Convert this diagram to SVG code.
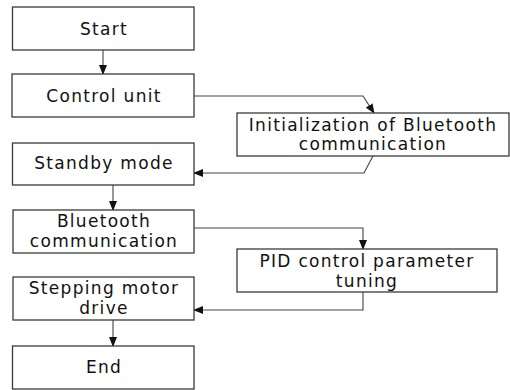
<svg xmlns="http://www.w3.org/2000/svg" width="510" height="390" viewBox="0 0 510 390">
  <style>
    .box { fill: #ffffff; stroke: #3a3a3a; stroke-width: 1.3; }
    .lbl { font-family: "DejaVu Sans", "Noto Sans", sans-serif; font-size: 17px; letter-spacing: 1.3px; fill: #111111; text-anchor: middle; }
    .wire { fill: none; stroke: #444444; stroke-width: 1.1; }
  </style>
  <defs>
    <marker id="arrow" markerWidth="10" markerHeight="8" refX="9" refY="4" orient="auto" markerUnits="userSpaceOnUse">
      <path d="M0,0 L10,4 L0,8 Z" fill="#111111"/>
    </marker>
  </defs>
  <rect width="510" height="390" fill="#ffffff"/>

  <g id="connectors">
    <path class="wire" d="M103,50 V74" marker-end="url(#arrow)"/>
    <path class="wire" d="M194,96 H363 L374,113" marker-end="url(#arrow)"/>
    <path class="wire" d="M373,156 L364,173 H194" marker-end="url(#arrow)"/>
    <path class="wire" d="M113,185 V210" marker-end="url(#arrow)"/>
    <path class="wire" d="M194,228 H363 V249" marker-end="url(#arrow)"/>
    <path class="wire" d="M363,292 V310 H194" marker-end="url(#arrow)"/>
    <path class="wire" d="M113,320 V346" marker-end="url(#arrow)"/>
  </g>

  <g id="start">
    <rect class="box" x="12.5" y="7" width="181.5" height="43"/>
    <text class="lbl" x="104" y="35">Start</text>
  </g>
  <g id="control-unit">
    <rect class="box" x="12" y="74" width="182" height="43"/>
    <text class="lbl" x="104" y="102">Control unit</text>
  </g>
  <g id="bt-init">
    <rect class="box" x="237" y="113" width="272" height="43"/>
    <text class="lbl" x="373" y="131">Initialization of Bluetooth</text>
    <text class="lbl" x="373" y="150">communication</text>
  </g>
  <g id="standby">
    <rect class="box" x="12.5" y="143" width="181.5" height="42"/>
    <text class="lbl" x="104" y="169">Standby mode</text>
  </g>
  <g id="bt-comm">
    <rect class="box" x="13" y="210" width="181" height="43"/>
    <text class="lbl" x="104" y="227">Bluetooth</text>
    <text class="lbl" x="104" y="247">communication</text>
  </g>
  <g id="pid">
    <rect class="box" x="237" y="249" width="260" height="43"/>
    <text class="lbl" x="367" y="267">PID control parameter</text>
    <text class="lbl" x="367" y="287">tuning</text>
  </g>
  <g id="stepper">
    <rect class="box" x="13" y="277" width="181" height="43"/>
    <text class="lbl" x="104" y="294">Stepping motor</text>
    <text class="lbl" x="104" y="314">drive</text>
  </g>
  <g id="end">
    <rect class="box" x="12.5" y="346" width="181.5" height="43"/>
    <text class="lbl" x="104" y="373">End</text>
  </g>
</svg>
